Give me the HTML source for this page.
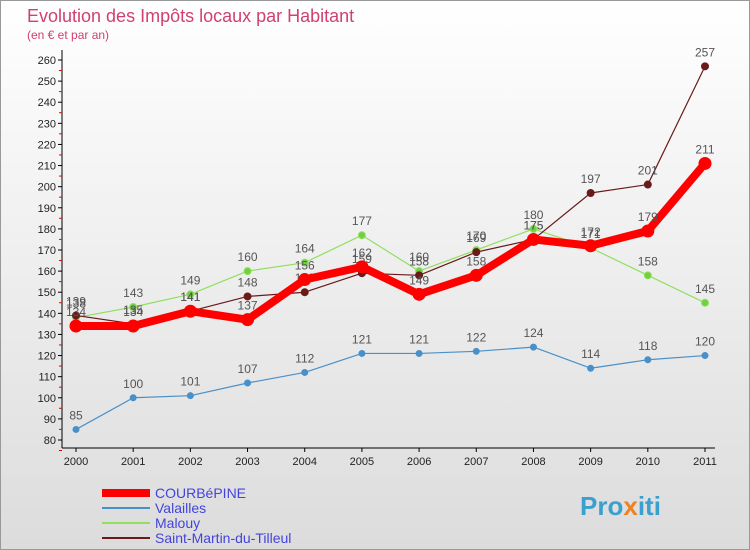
<!DOCTYPE html>
<html><head><meta charset="utf-8"><style>
body{margin:0;background:#fff;}
svg{font-family:"Liberation Sans",sans-serif;display:block}
</style></head><body>
<svg width="750" height="550" viewBox="0 0 750 550">
<defs><linearGradient id="bg" x1="0" y1="0" x2="0" y2="1"><stop offset="0" stop-color="#ffffff"/><stop offset="1" stop-color="#dcdcdc"/></linearGradient></defs>
<rect x="0.5" y="0.5" width="749" height="549" fill="url(#bg)" stroke="#999"/>
<text x="27" y="22" font-size="18" fill="#d04070">Evolution des Impôts locaux par Habitant</text>
<text x="27" y="39" font-size="12" fill="#d04070">(en € et par an)</text>
<g id="axes"></g>
<g id="series"></g>
<g id="legend"></g>
<text x="580" y="515" font-size="26" font-weight="bold" fill="#3aa0d0">Pro<tspan fill="#f08020">x</tspan>iti</text>
</svg>
<script>
const years=[2000,2001,2002,2003,2004,2005,2006,2007,2008,2009,2010,2011];
const courbepine=[134,134,141,137,156,162,149,158,175,172,179,211];
const valailles=[85,100,101,107,112,121,121,122,124,114,118,120];
const malouy=[138,143,149,160,164,177,160,170,180,171,158,145];
const saintMartin=[139,135,141,148,150,159,158,169,175,197,201,257];
const yTicks=[80,90,100,110,120,130,140,150,160,170,180,190,200,210,220,230,240,250,260];
const NS="http://www.w3.org/2000/svg";
function xs(i){return 76+i*(705-76)/11;}
function ys(v){return 440-(v-80)*(380/180);}
function mk(tag,attrs,parent){const e=document.createElementNS(NS,tag);for(const k in attrs)e.setAttribute(k,attrs[k]);parent.appendChild(e);return e;}
const ax=document.getElementById('axes');
const yaxis=mk('line',{x1:62,y1:50,x2:62,y2:448,stroke:'#000'},ax);


const xaxis=mk('line',{x1:62,y1:448,x2:715,y2:448,stroke:'#000'},ax);


yTicks.forEach(v=>{
  const y=ys(v);
  mk('line',{x1:58,y1:y,x2:62,y2:y,stroke:'#000'},ax);
  mk('line',{x1:59,y1:y+10.5,x2:62,y2:y+10.5,stroke:'#e00'},ax);
  const t=mk('text',{x:56,y:y+4,'font-size':11,'text-anchor':'end',fill:'#222'},ax);
  t.textContent=v;
  
  
});
years.forEach((yr,i)=>{
  const x=xs(i);
  mk('line',{x1:x,y1:448,x2:x,y2:452,stroke:'#000'},ax);
  const t=mk('text',{x:x,y:465,'font-size':11,'text-anchor':'middle',fill:'#222'},ax);
  t.textContent=yr;
  
  
});
const sg=document.getElementById('series');
function draw(data,name,color,w,r,dot){
  const g=mk('g',{},sg);
  
  
  const pl=mk('polyline',{points:data.map((v,i)=>xs(i)+','+ys(v)).join(' '),fill:'none',stroke:color,'stroke-width':w,'stroke-linejoin':'round'},g);
  
  
  data.forEach((v,i)=>{
    const c=mk('circle',{cx:xs(i),cy:ys(v),r:r,fill:dot,stroke:color,'stroke-width':1},g);
    
    
    const t=mk('text',{x:xs(i),y:ys(v)-10,'font-size':12,'text-anchor':'middle',fill:'#555'},g);
    t.textContent=v;
    
    
  });
}
draw(valailles,'valailles','#4a90c8',1.2,3,'#4a90c8');
draw(malouy,'malouy','#90e060',1.2,3.5,'#70d040');
draw(saintMartin,'saint-martin','#6a1a1a',1.2,3.5,'#6a1a1a');
draw(courbepine,'courbepine','#ff0000',8,6,'#ff0000');
const lg=document.getElementById('legend');
const items=[['COURBéPINE','#ff0000',8],['Valailles','#4a90c8',2],['Malouy','#90e060',2],['Saint-Martin-du-Tilleul','#6a1a1a',2]];
items.forEach((it,i)=>{
  const y=493+i*15;
  const l=mk('line',{x1:102,y1:y,x2:150,y2:y,stroke:it[1],'stroke-width':it[2]},lg);
  
  
  const t=mk('text',{x:155,y:y+5,'font-size':14,fill:'#4444dd'},lg);
  t.textContent=it[0];
  
  
});
</script>
</body></html>
